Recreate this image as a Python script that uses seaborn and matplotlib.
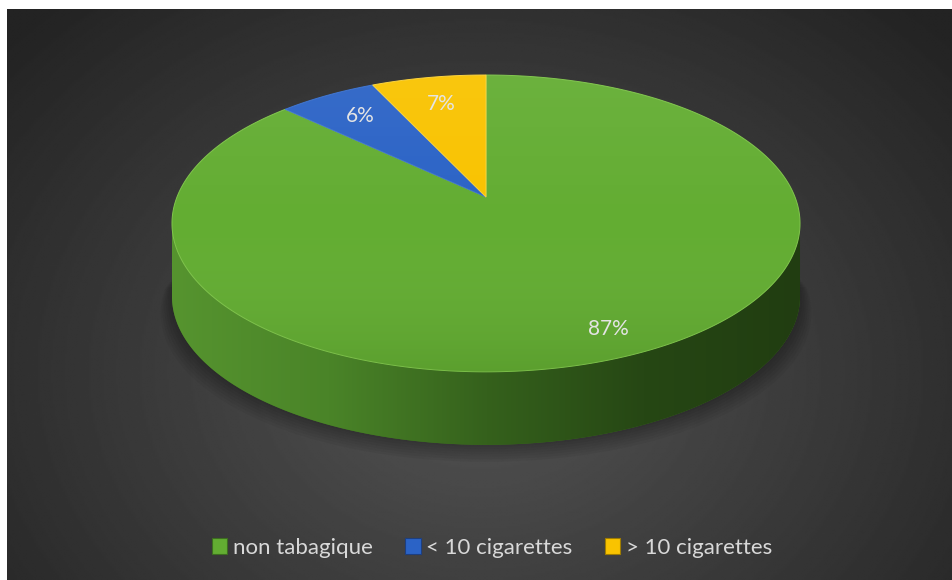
import numpy as np
import seaborn as sns
import matplotlib
matplotlib.use("Agg")
from matplotlib import pyplot as plt
from matplotlib.patches import Patch, Polygon
from matplotlib.colors import LinearSegmentedColormap

# données
categories = ["non tabagique", "< 10 cigarettes", "> 10 cigarettes"]
values = [87, 6, 7]
colors = ["#63ad32", "#2b63c6", "#f9c300"]
side_colors = ["#3d6e20", "#1d3f80", "#a07d00"]
label_radius = [0.86, 0.77, 0.75]

sns.set_theme(style="white")
plt.rcParams["font.family"] = ["Lato", "DejaVu Sans"]

W, H = 953, 580
fig = plt.figure(figsize=(W / 100, H / 100), dpi=100, facecolor="white")

# fond sombre en dégradé radial
bg = fig.add_axes([7 / W, 0, (W - 8) / W, (H - 9) / H])
yy, xx = np.mgrid[0:300, 0:500]
r = np.sqrt(((xx - 250) / 330.0) ** 2 + ((yy - 190) / 260.0) ** 2)
shade = np.clip(0.33 - 0.19 * r, 0.14, 0.34)
bg.imshow(shade, cmap="gray", vmin=0, vmax=1, aspect="auto", interpolation="bilinear")
bg.set_axis_off()

# projection en perspective du disque (u, v) -> pixels
cx, cy = 486, 197
A, B, K = 309.0, 143.7, 0.178
depth = 73


def proj(u, v, dy=0.0):
    u = np.asarray(u)
    v = np.asarray(v)
    s = 1 + K * v
    return cx + A * u / s, cy - B * v / s + dy


ax = fig.add_axes([0, 0, 1, 1])
ax.patch.set_alpha(0)

wedges, texts, autotexts = ax.pie(values, startangle=90, counterclock=False, radius=1,
                                  autopct="%1.0f%%", pctdistance=1.0,
                                  textprops=dict(color="#e4e4e4", fontsize=15))


def projected(w, dy=0.0):
    # échantillonne finement les courbes de Bézier du secteur
    pts = []
    for seg, code in w.get_path().iter_bezier():
        pts.append(seg(np.linspace(0, 1, 40)))
    poly = np.concatenate(pts)
    x, y = proj(poly[:, 0], poly[:, 1], dy)
    return np.column_stack([x, y])


polys = [projected(w) for w in wedges]
for w in wedges:
    w.remove()

# ombre portée
t = np.linspace(np.pi, 2 * np.pi, 200)
for k in range(7):
    sx, sy = proj(np.cos(t) * (1 + 0.006 * k), np.sin(t), depth + 2 + 2.5 * k)
    ax.fill(sx, sy, color="black", alpha=0.045, lw=0, zorder=1)

# face inférieure
for w, c in zip(wedges, side_colors):
    ax.add_patch(Polygon(projected(w, depth), closed=True, facecolor=c, lw=0, zorder=2))

# côté (épaisseur) visible
ts = np.linspace(np.pi + np.arcsin(K), 2 * np.pi - np.arcsin(K), 300)
tx, ty = proj(np.cos(ts), np.sin(ts))
side_poly = np.concatenate([np.column_stack([tx, ty]),
                            np.column_stack([tx[::-1], ty[::-1] + depth])])
side = Polygon(side_poly, closed=True, facecolor="none", edgecolor="none")
ax.add_patch(side)
grad = np.linspace(0, 1, 256)[None, :]
im = ax.imshow(grad, extent=(tx.min(), tx.max(), ty.max() + depth, ty.min()),
               cmap=LinearSegmentedColormap.from_list(
                   "side", ["#56942f", "#4a8428", "#35611c", "#264714", "#213d11"]),
               aspect="auto", zorder=3)
im.set_clip_path(side)

# face supérieure
edges = ["#80c64c", "#3d73cf", "#fbd23a"]
for p, c, e in zip(polys, colors, edges):
    ax.add_patch(Polygon(p, closed=True, facecolor=c, edgecolor=e, lw=0.7, zorder=4))

# léger dégradé vertical sur le dessus
tt = np.linspace(0, 2 * np.pi, 400)
ellx, elly = proj(np.cos(tt), np.sin(tt))
ell = Polygon(np.column_stack([ellx, elly]), closed=True, facecolor="none", edgecolor="none")
ax.add_patch(ell)
vg = np.linspace(0, 1, 256)[:, None]
ov = ax.imshow(vg, extent=(ellx.min(), ellx.max(), elly.max(), elly.min()),
               cmap=LinearSegmentedColormap.from_list(
                   "ov", [(1, 1, 1, 0.06), (1, 1, 1, 0.0), (0, 0, 0, 0.08)]),
               aspect="auto", zorder=5)
ov.set_clip_path(ell)

for txt, rr in zip(autotexts, label_radius):
    x0, y0 = txt.get_position()
    px, py = proj(x0 * rr, y0 * rr)
    txt.set_position((float(px), float(py)))
    txt.set_zorder(6)

ax.set_aspect("auto")
ax.set_xlim(0, W)
ax.set_ylim(H, 0)
ax.set_axis_off()

# légende
handles = [Patch(facecolor=c, edgecolor=s, lw=0.8) for c, s in zip(colors, side_colors)]
leg = fig.legend(handles, categories, loc="center", bbox_to_anchor=(492 / W, 1 - 548 / H),
                 ncol=3, frameon=False, fontsize=16, handlelength=0.7, handleheight=0.7,
                 handletextpad=0.25, columnspacing=1.45)
for t_ in leg.get_texts():
    t_.set_color("#d9d9d9")

fig.savefig("out.png", dpi=100, facecolor="white")
